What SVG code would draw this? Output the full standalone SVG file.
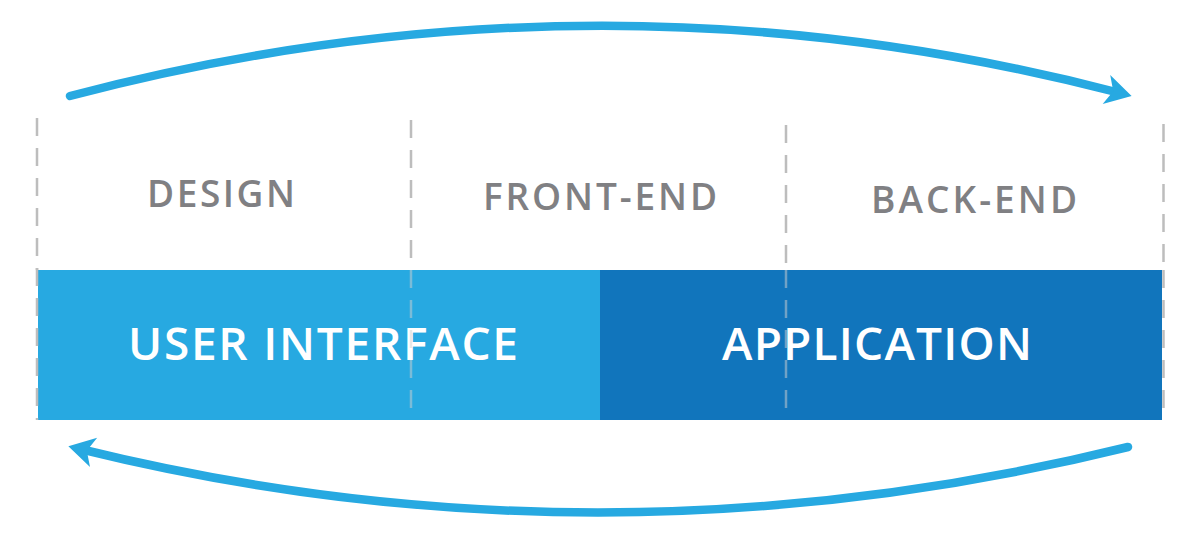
<svg xmlns="http://www.w3.org/2000/svg" width="1200" height="540" viewBox="0 0 1200 540">
  <style>
    .label { font-family: "Open Sans", "Liberation Sans", sans-serif; font-weight: 600; font-size: 37px; fill: #808083; text-anchor: middle; }
    .band { font-family: "Open Sans", "Liberation Sans", sans-serif; font-weight: 600; font-size: 46px; fill: #ffffff; text-anchor: middle; }
    .dash { stroke: #bdbdbd; stroke-width: 2.5; stroke-dasharray: 18 12; fill: none; }
    .dash-over { stroke: #d0d0d0; stroke-opacity: 0.5; stroke-width: 2.5; stroke-dasharray: 18 12; fill: none; }
    .arc { stroke: #27a9e1; stroke-width: 8.5; fill: none; stroke-linecap: round; }
  </style>
  <defs>
    <marker id="head" markerUnits="userSpaceOnUse" markerWidth="60" markerHeight="60" refX="0" refY="0" orient="auto" viewBox="-40 -30 60 60" overflow="visible">
      <path d="M12,0 L-14,-15 L-7,0 L-14,15 Z" fill="#27a9e1"/>
    </marker>
  </defs>
  <rect width="1200" height="540" fill="#ffffff"/>

  <g id="guides">
    <line class="dash" x1="37" y1="118" x2="37" y2="270"/>
    <line class="dash" x1="411" y1="120" x2="411" y2="270"/>
    <line class="dash" x1="786" y1="125" x2="786" y2="270"/>
    <line class="dash" x1="1163.5" y1="124" x2="1163.5" y2="270"/>
  </g>

  <g id="user-interface">
    <rect x="38" y="270" width="562" height="150" fill="#27a9e1"/>
    <text class="band" x="323" y="360" textLength="390" lengthAdjust="spacing">USER INTERFACE</text>
  </g>
  <g id="application">
    <rect x="600" y="270" width="562" height="150" fill="#1175bc"/>
    <text class="band" x="877" y="360" textLength="310" lengthAdjust="spacing">APPLICATION</text>
  </g>

  <g id="guides-over">
    <line class="dash" x1="37" y1="268" x2="37" y2="420"/>
    <line class="dash-over" x1="411" y1="270" x2="411" y2="420"/>
    <line class="dash-over" x1="786" y1="270" x2="786" y2="420"/>
    <line class="dash" x1="1163.5" y1="270" x2="1163.5" y2="420"/>
  </g>

  <g id="design">
    <text class="label" x="221" y="207" textLength="148" lengthAdjust="spacing">DESIGN</text>
  </g>
  <g id="front-end">
    <text class="label" x="600" y="210" textLength="234" lengthAdjust="spacing">FRONT-END</text>
  </g>
  <g id="back-end">
    <text class="label" x="974" y="213" textLength="206" lengthAdjust="spacing">BACK-END</text>
  </g>

  <g id="connectors">
    <path class="arc" d="M70,96 Q598,-43 1120,93" marker-end="url(#head)"/>
    <path class="arc" d="M1128,447 Q600,577 80,449" marker-end="url(#head)"/>
  </g>
</svg>
